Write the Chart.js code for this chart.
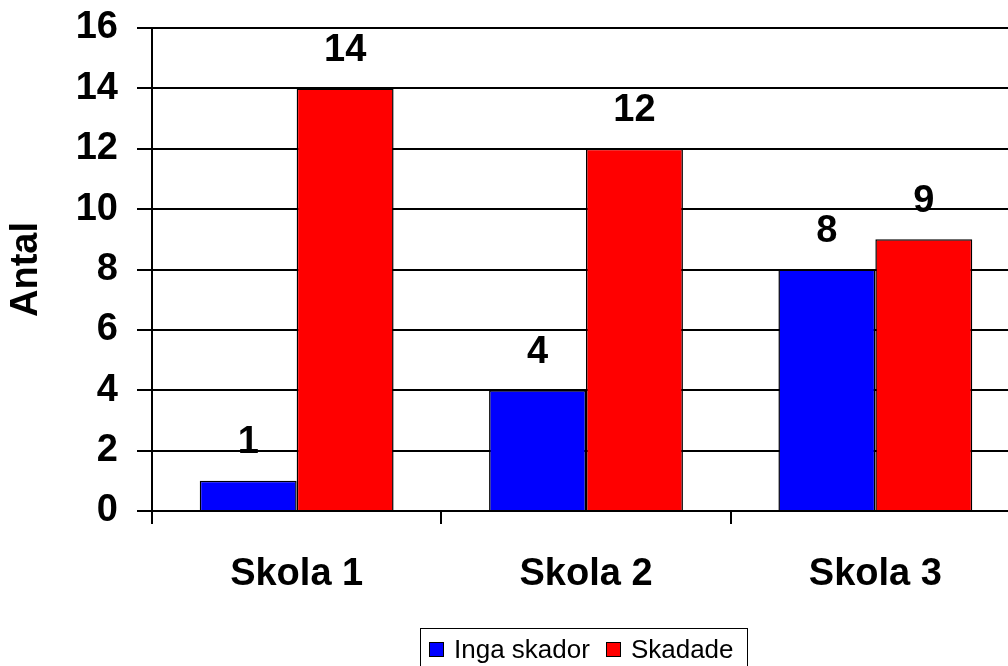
<!DOCTYPE html>
<html>
<head>
<meta charset="utf-8">
<script src="https://cdn.jsdelivr.net/npm/chart.js@4/dist/chart.umd.min.js"></script>
<style>
  html, body { margin: 0; padding: 0; background: #fff; overflow: hidden; }
  #wrap { position: relative; width: 1008px; height: 666px; overflow: hidden; }
  #chart { position: absolute; left: 0; top: 0; }
  #legend {
    position: absolute; left: 420px; top: 628px; width: 328px; height: 46px;
    border: 1.5px solid #000; box-sizing: border-box;
    font-family: "Liberation Sans", Arial, sans-serif; font-size: 26px;
    display: flex; align-items: flex-start; padding: 5px 0 0 8px; white-space: nowrap;
  }
  #legend .item { display: flex; align-items: center; margin-right: 16px; }
  #legend .box { width: 13px; height: 13px; border: 1.5px solid #000; margin-right: 10px; }
</style>
</head>
<body>
<div id="wrap">
  <canvas id="chart" width="1024" height="666"></canvas>
  <div id="legend"></div>
</div>
<script>
const categories = ["Skola 1", "Skola 2", "Skola 3"];
const ingaSkador = [1, 4, 8];
const skadade = [14, 12, 9];
const seriesNames = ["Inga skador", "Skadade"];
const seriesColors = ["#0000FF", "#FF0000"];

const chartEl = document.getElementById("chart");
const FONT = "'Liberation Sans', Arial, sans-serif";

// numbers above each bar
const valueLabels = {
  id: "valueLabels",
  afterDatasetsDraw(chart) {
    const ctx = chart.ctx;
    ctx.save();
    ctx.font = "bold 38px " + FONT;
    ctx.fillStyle = "#000";
    ctx.textAlign = "center";
    ctx.textBaseline = "middle";
    chart.data.datasets.forEach((ds, i) => {
      chart.getDatasetMeta(i).data.forEach((bar, j) => {
        ctx.fillText(String(ds.data[j]), bar.x, bar.y - 38);
      });
    });
    ctx.restore();
  },
};

const chartInstance = new Chart(chartEl, {
  type: "bar",
  data: {
    labels: categories,
    datasets: [
      {
        label: seriesNames[0],
        data: ingaSkador,
        backgroundColor: seriesColors[0],
        borderColor: "#000",
        borderWidth: 1.5,
      },
      {
        label: seriesNames[1],
        data: skadade,
        backgroundColor: seriesColors[1],
        borderColor: "#000",
        borderWidth: 1.5,
      },
    ],
  },
  options: {
    responsive: false,
    animation: false,
    categoryPercentage: 0.67,
    barPercentage: 1.0,
    layout: { padding: { top: 28, right: 4, bottom: 0, left: 0 } },
    scales: {
      x: {
        grid: {
          offset: true,
          drawOnChartArea: false,
          color: "#000",
          lineWidth: 2,
          tickLength: 13,
        },
        border: { display: true, color: "#000", width: 2 },
        ticks: {
          color: "#000",
          font: { family: FONT, size: 38, weight: "bold" },
          padding: 28,
          maxRotation: 0,
        },
        afterFit(scale) {
          scale.height = 155;
          scale.paddingLeft = 0;
          scale.paddingRight = 0;
        },
      },
      y: {
        min: 0,
        max: 16,
        grid: { color: "#000", lineWidth: 2, tickLength: 15 },
        border: { display: true, color: "#000", width: 2 },
        ticks: {
          stepSize: 2,
          color: "#000",
          font: { family: FONT, size: 38, weight: "bold" },
          padding: 19,
        },
        title: {
          display: true,
          text: "Antal",
          color: "#000",
          font: { family: FONT, size: 38, weight: "bold" },
          padding: { top: 4, bottom: 0 },
        },
        afterFit(scale) {
          scale.width = 152;
          scale.paddingTop = 0;
          scale.paddingBottom = 0;
        },
      },
    },
    plugins: {
      legend: { display: false },
      tooltip: { enabled: false },
    },
  },
  plugins: [valueLabels],
});

const legendEl = document.getElementById("legend");
seriesNames.forEach((name, i) => {
  const item = document.createElement("div");
  item.className = "item";
  const box = document.createElement("span");
  box.className = "box";
  box.style.background = seriesColors[i];
  const txt = document.createElement("span");
  txt.textContent = name;
  item.appendChild(box);
  item.appendChild(txt);
  legendEl.appendChild(item);
});
</script>
</body>
</html>
